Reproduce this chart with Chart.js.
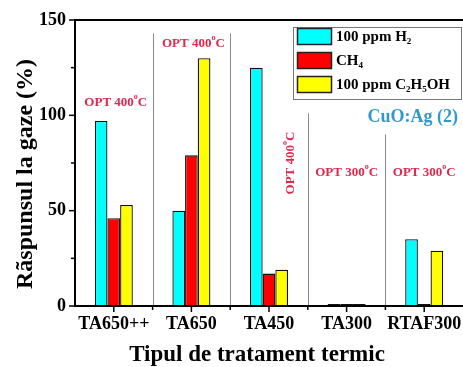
<!DOCTYPE html>
<html>
<head>
<meta charset="utf-8">
<script src="https://cdn.jsdelivr.net/npm/chart.js@4/dist/chart.umd.min.js"></script>
<style>
  html, body { margin: 0; padding: 0; background: #fff; }
  #wrap { width: 463px; height: 367px; position: relative; }
</style>
</head>
<body>
<div id="wrap"><canvas id="gaze"></canvas></div>
<script>
// date
var categorii = ["TA650++", "TA650", "TA450", "TA300", "RTAF300"];
var h2 = [97, 50, 125, 1, 35];
var ch4 = [46, 79, 17, 1, 1];
var etanol = [53, 130, 19, 1, 29];
var yTicks = [0, 50, 100, 150];

var serif = '"Liberation Serif", "Times New Roman", serif';
var rosu = '#e3264c';

// linii verticale intre categorii (valoarea y de unde pornesc)
var separatoare = [143, 143, 101, 90];

function scrieSub(ctx, parti, x, y, size) {
  parti.forEach(function(p) {
    ctx.font = 'bold ' + (p.sub ? Math.round(size * 0.62) : size) + 'px ' + serif;
    ctx.fillText(p.t, x, p.sub ? y + size * 0.3 : y);
    x += ctx.measureText(p.t).width;
  });
}

function scrieOpt(ctx, temp, x, y) {
  ctx.fillStyle = rosu;
  ctx.textBaseline = 'middle';
  var a = 'OPT ' + temp, b = 'C';
  ctx.font = 'bold 13px ' + serif;
  var wa = ctx.measureText(a).width;
  ctx.font = 'bold 8px ' + serif;
  var wd = ctx.measureText('o').width;
  ctx.font = 'bold 13px ' + serif;
  var wb = ctx.measureText(b).width;
  var x0 = x - (wa + wd + wb) / 2;
  ctx.textAlign = 'left';
  ctx.fillText(a, x0, y);
  ctx.font = 'bold 8px ' + serif;
  ctx.fillText('o', x0 + wa, y - 6);
  ctx.font = 'bold 13px ' + serif;
  ctx.fillText(b, x0 + wa + wd, y);
}

var decor = {
  id: 'decor',
  beforeDatasetsDraw: function(chart) {
    var ctx = chart.ctx, xs = chart.scales.x, ys = chart.scales.y;
    ctx.save();
    ctx.strokeStyle = '#888';
    ctx.lineWidth = 1;
    for (var i = 0; i < separatoare.length; i++) {
      var px = Math.round((xs.getPixelForValue(i) + xs.getPixelForValue(i + 1)) / 2) + 0.5;
      ctx.beginPath();
      ctx.moveTo(px, ys.getPixelForValue(separatoare[i]));
      ctx.lineTo(px, ys.bottom);
      ctx.stroke();
    }
    ctx.restore();
  },
  afterDraw: function(chart) {
    var ctx = chart.ctx, xs = chart.scales.x, ys = chart.scales.y;
    var a = chart.chartArea;
    ctx.save();
    // axe si rama
    ctx.strokeStyle = '#000';
    ctx.lineWidth = 2;
    ctx.beginPath();
    ctx.moveTo(a.left, a.bottom); ctx.lineTo(a.left, a.top); ctx.lineTo(a.right + 2, a.top);
    ctx.moveTo(a.left - 1, a.bottom); ctx.lineTo(a.right + 2, a.bottom);
    ctx.stroke();
    // gradatii y
    ctx.lineWidth = 1.5;
    [0, 25, 50, 75, 100, 125, 150].forEach(function(v) {
      var py = ys.getPixelForValue(v);
      ctx.beginPath();
      ctx.moveTo(a.left, py);
      ctx.lineTo(a.left - (v % 50 === 0 ? 6 : 4), py);
      ctx.stroke();
    });
    // gradatii x
    for (var i = 0; i < categorii.length; i++) {
      var c = xs.getPixelForValue(i);
      ctx.beginPath(); ctx.moveTo(c, a.bottom); ctx.lineTo(c, a.bottom + 6); ctx.stroke();
      if (i < categorii.length - 1) {
        var m = (c + xs.getPixelForValue(i + 1)) / 2;
        ctx.beginPath(); ctx.moveTo(m, a.bottom); ctx.lineTo(m, a.bottom + 4); ctx.stroke();
      }
    }
    // titluri axe
    ctx.fillStyle = '#000';
    ctx.textAlign = 'center';
    ctx.textBaseline = 'middle';
    ctx.font = 'bold 23px ' + serif;
    ctx.fillText('Tipul de tratament termic', 257, 355);
    ctx.save();
    ctx.translate(26, 174);
    ctx.rotate(-Math.PI / 2);
    ctx.font = 'bold 24px ' + serif;
    ctx.fillText('Rãspunsul la gaze (%)', 0, 0);
    ctx.restore();
    // adnotari
    scrieOpt(ctx, '400', xs.getPixelForValue(0) + 2, 103);
    scrieOpt(ctx, '400', xs.getPixelForValue(1) + 2, 44);
    scrieOpt(ctx, '300', xs.getPixelForValue(3), 173);
    scrieOpt(ctx, '300', xs.getPixelForValue(4), 173);
    ctx.save();
    ctx.translate(291, 163);
    ctx.rotate(-Math.PI / 2);
    scrieOpt(ctx, '400', 0, 0);
    ctx.restore();
    ctx.fillStyle = '#3399cc';
    ctx.textAlign = 'right';
    ctx.font = 'bold 18px ' + serif;
    ctx.fillText('CuO:Ag (2)', 458, 117);
    // legenda
    ctx.fillStyle = '#fff';
    ctx.strokeStyle = '#777';
    ctx.lineWidth = 1;
    ctx.fillRect(293.5, 27.5, 168, 72);
    ctx.strokeRect(293.5, 27.5, 168, 72);
    var leg = [
      { c: '#00ffff', t: [{ t: '100 ppm H' }, { t: '2', sub: true }] },
      { c: '#ff0000', t: [{ t: 'CH' }, { t: '4', sub: true }] },
      { c: '#ffff00', t: [{ t: '100 ppm C' }, { t: '2', sub: true }, { t: 'H' }, { t: '5', sub: true }, { t: 'OH' }] }
    ];
    ctx.textAlign = 'left';
    ctx.textBaseline = 'middle';
    leg.forEach(function(it, k) {
      var yc = 37 + k * 24;
      ctx.fillStyle = it.c;
      ctx.fillRect(297.5, yc - 8.5, 34, 16);
      ctx.strokeStyle = '#222';
      ctx.lineWidth = 1.5;
      ctx.strokeRect(297.5, yc - 8.5, 34, 16);
      ctx.fillStyle = '#000';
      scrieSub(ctx, it.t, 336, yc, 15);
    });
    ctx.restore();
  }
};

new Chart(document.getElementById('gaze'), {
  type: 'bar',
  data: {
    labels: categorii,
    datasets: [
      { label: '100 ppm H2', data: h2, backgroundColor: '#00ffff' },
      { label: 'CH4', data: ch4, backgroundColor: '#ff0000' },
      { label: '100 ppm C2H5OH', data: etanol, backgroundColor: '#ffff00' }
    ].map(function(d) {
      d.borderColor = '#111';
      d.borderWidth = 1.3;
      d.categoryPercentage = 0.49;
      d.barPercentage = 1;
      return d;
    })
  },
  options: {
    responsive: true,
    maintainAspectRatio: false,
    animation: false,
    layout: { padding: { top: 20, right: 0, left: 0, bottom: 0 } },
    plugins: { legend: { display: false }, tooltip: { enabled: false } },
    scales: {
      x: {
        grid: { display: false, drawTicks: false },
        border: { display: false },
        ticks: {
          color: '#000', padding: 8, autoSkip: false, maxRotation: 0, minRotation: 0,
          font: { family: serif, weight: 'bold', size: 18 }
        },
        afterFit: function(s) { s.height = 61; s.paddingLeft = 0; s.paddingRight = 0; }
      },
      y: {
        min: 0, max: 150,
        afterBuildTicks: function(s) { s.ticks = yTicks.map(function(v) { return { value: v }; }); },
        grid: { display: false, drawTicks: false },
        border: { display: false },
        ticks: { color: '#000', padding: 9, font: { family: serif, weight: 'bold', size: 18 } },
        afterFit: function(s) { s.width = 75; }
      }
    }
  },
  plugins: [decor]
});
</script>
</body>
</html>
